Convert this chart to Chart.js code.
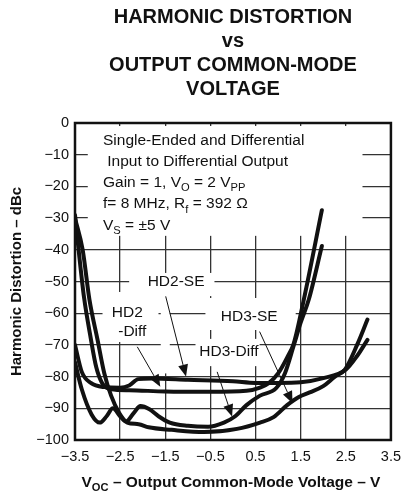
<!DOCTYPE html>
<html>
<head>
<meta charset="utf-8">
<script src="https://cdn.jsdelivr.net/npm/chart.js@4.4.0/dist/chart.umd.min.js"></script>
<style>
  html, body { margin: 0; padding: 0; background: #fff; }
  #chart { display: block; }
</style>
</head>
<body>
<canvas id="chart" width="409" height="495"></canvas>
<script>
// axis ticks
const X_TICKS = [-3.5, -2.5, -1.5, -0.5, 0.5, 1.5, 2.5, 3.5];
const Y_MIN = -100;
const Y_MAX = 0;

// curves (V, dBc)
const hd2SeX = [-3.5, -3.35, -3.15, -2.85, -2.5, -2.3, -2.1, -1.8, -1.0, 0.0, 0.5, 1.0, 1.5, 2.0, 2.5, 2.75, 2.98];
const hd2SeY = [-70, -78.5, -82, -83.3, -83.5, -82.8, -80.8, -80.6, -81, -81.5, -82, -82, -81.8, -80.5, -77.8, -73.5, -68.4];

const hd2DiffX = [-3.5, -3.42, -3.3, -3.15, -3.03, -2.9, -2.7, -2.3, -1.5, -0.5, 0.3, 0.6, 0.8, 1.0, 1.2, 1.35, 1.57, 1.97];
const hd2DiffY = [-29, -40, -55, -68, -77, -82, -84, -84.3, -84.7, -84.8, -84.5, -83.5, -82, -79, -74, -69.4, -55.7, -27.5];

const hd3SeX = [-3.5, -3.33, -3.18, -3.0, -2.85, -2.7, -2.52, -2.34, -2.09, -1.87, -1.36, -0.64, 0.09, 0.6, 0.9, 1.2, 1.45, 1.7, 2.0, 2.26, 2.48, 2.75, 2.98];
const hd3SeY = [-30, -40, -55.7, -68.4, -79, -86, -91.5, -94.5, -95, -96, -96.8, -97.5, -96.5, -94.5, -92.8, -89, -86.5, -85, -83, -80, -77.8, -70, -62];

const hd3DiffX = [-3.5, -3.35, -3.13, -2.95, -2.8, -2.66, -2.5, -2.37, -2.2, -2.05, -1.85, -1.65, -1.4, -1.0, -0.55, -0.2, 0.05, 0.3, 0.6, 0.96, 1.15, 1.35, 1.5, 1.68, 1.97];
const hd3DiffY = [-75.5, -84, -92, -94.5, -92.5, -90, -92.5, -94.2, -91.5, -89.3, -90.3, -92.5, -94.5, -95.5, -95.8, -94.5, -92.5, -89, -86, -83.6, -79, -70, -63, -55.7, -38.8];

const FONT = "'Liberation Sans', Arial, sans-serif";
const INK = "#111";

function toPoints(xs, ys) {
  return xs.map((x, i) => ({ x: x, y: ys[i] }));
}
function minusSign(v) {
  return String(v).replace("-", "\u2212");
}

// condition text, [text, isSubscript]
const NOTE_LINES = [
  [["Single-Ended and Differential"]],
  [[" Input to Differential Output"]],
  [["Gain = 1, V"], ["O", 1], [" = 2 V"], ["PP", 1]],
  [["f= 8 MHz, R"], ["f", 1], [" = 392 \u03A9"]],
  [["V"], ["S", 1], [" = \u00B15 V"]],
];

// white boxes behind texts (data units: x1, x2, y1, y2)
const MASKS = [
  [-3.217, 2.87, -0.95, -35.6],
  [-2.3, -0.41, -47.3, -54.6],
  [-1.6, -1.4, -54.6, -79],
  [-2.89, -1.65, -53.3, -69.1],
  [-0.61, 1.39, -55.2, -65.3],
  [-0.83, 0.59, -68.1, -76.7],
];
const LABELS = [
  ["HD2-SE", -1.26, -50.0],
  ["HD2", -2.34, -60.0],
  ["-Diff", -2.23, -65.8],
  ["HD3-SE", 0.36, -61.1],
  ["HD3-Diff", -0.09, -72.1],
];
// arrows: from (x, y) to tip (x, y)
const ARROWS = [
  [-1.49, -54.7, -1.04, -80],
  [-2.12, -70.6, -1.61, -83.2],
  [-0.35, -78.5, -0.02, -92.6],
  [0.59, -65.8, 1.32, -88.4],
];

function drawRich(ctx, parts, x, y, size, weight, align) {
  const subSize = size * 0.72;
  let total = 0;
  parts.forEach((p) => {
    ctx.font = `${weight} ${p[1] ? subSize : size}px ${FONT}`;
    total += ctx.measureText(p[0]).width;
  });
  let cx = align === "center" ? x - total / 2 : x;
  ctx.textAlign = "left";
  ctx.textBaseline = "alphabetic";
  parts.forEach((p) => {
    ctx.font = `${weight} ${p[1] ? subSize : size}px ${FONT}`;
    ctx.fillText(p[0], cx, p[1] ? y + size * 0.28 : y);
    cx += ctx.measureText(p[0]).width;
  });
}

const overlay = {
  id: "overlay",
  beforeDatasetsDraw(chart) {
    const { ctx } = chart;
    const xs = chart.scales.x;
    const ys = chart.scales.y;
    ctx.save();
    ctx.fillStyle = "#fff";
    MASKS.forEach(([x1, x2, y1, y2]) => {
      const px1 = xs.getPixelForValue(x1);
      const px2 = xs.getPixelForValue(x2);
      const py1 = ys.getPixelForValue(y1);
      const py2 = ys.getPixelForValue(y2);
      ctx.fillRect(px1, py1, px2 - px1, py2 - py1);
    });
    ctx.fillStyle = INK;
    NOTE_LINES.forEach((line, i) => {
      drawRich(ctx, line, 103, 144.5 + i * 21.3, 15.5, "normal", "left");
    });
    ctx.font = `normal 15.5px ${FONT}`;
    ctx.textAlign = "center";
    ctx.textBaseline = "middle";
    LABELS.forEach(([t, lx, ly]) => {
      ctx.fillText(t, xs.getPixelForValue(lx), ys.getPixelForValue(ly));
    });
    ctx.restore();
  },
  afterDatasetsDraw(chart) {
    const { ctx, chartArea } = chart;
    const xs = chart.scales.x;
    const ys = chart.scales.y;
    ctx.save();
    ctx.strokeStyle = INK;
    ctx.fillStyle = INK;
    ARROWS.forEach(([x1, y1, x2, y2]) => {
      const ax = xs.getPixelForValue(x1);
      const ay = ys.getPixelForValue(y1);
      const bx = xs.getPixelForValue(x2);
      const by = ys.getPixelForValue(y2);
      const ang = Math.atan2(by - ay, bx - ax);
      const len = 12;
      const half = 5;
      const baseX = bx - len * Math.cos(ang);
      const baseY = by - len * Math.sin(ang);
      ctx.lineWidth = 1;
      ctx.beginPath();
      ctx.moveTo(ax, ay);
      ctx.lineTo(baseX, baseY);
      ctx.stroke();
      ctx.beginPath();
      ctx.moveTo(bx, by);
      ctx.lineTo(baseX + half * Math.sin(ang), baseY - half * Math.cos(ang));
      ctx.lineTo(baseX - half * Math.sin(ang), baseY + half * Math.cos(ang));
      ctx.closePath();
      ctx.fill();
    });
    // frame
    ctx.lineWidth = 2.5;
    ctx.strokeRect(chartArea.left, chartArea.top, chartArea.right - chartArea.left, chartArea.bottom - chartArea.top);
    ctx.restore();
  },
  afterDraw(chart) {
    const { ctx, chartArea } = chart;
    const cx = (chartArea.left + chartArea.right) / 2;
    ctx.save();
    ctx.fillStyle = INK;
    ctx.textAlign = "center";
    ctx.textBaseline = "alphabetic";
    ctx.font = `bold 20px ${FONT}`;
    ["HARMONIC DISTORTION", "vs", "OUTPUT COMMON-MODE", "VOLTAGE"].forEach((t, i) => {
      ctx.fillText(t, cx, 23 + i * 24);
    });
    drawRich(ctx, [["V"], ["OC", 1], [" \u2013 Output Common-Mode Voltage \u2013 V"]], cx - 2, 487, 15.5, "bold", "center");
    ctx.restore();
  },
};

const lineStyle = {
  borderColor: INK,
  borderWidth: 4,
  pointRadius: 0,
  fill: false,
  cubicInterpolationMode: "monotone",
  borderCapStyle: "round",
  borderJoinStyle: "round",
};

new Chart(document.getElementById("chart"), {
  type: "line",
  data: {
    datasets: [
      { label: "HD2-SE", data: toPoints(hd2SeX, hd2SeY), ...lineStyle },
      { label: "HD2-Diff", data: toPoints(hd2DiffX, hd2DiffY), ...lineStyle },
      { label: "HD3-SE", data: toPoints(hd3SeX, hd3SeY), ...lineStyle },
      { label: "HD3-Diff", data: toPoints(hd3DiffX, hd3DiffY), ...lineStyle },
    ],
  },
  options: {
    responsive: false,
    animation: false,
    devicePixelRatio: 1,
    layout: { padding: { top: 123, right: 12, left: 0, bottom: 0 } },
    plugins: { legend: { display: false }, tooltip: { enabled: false } },
    scales: {
      x: {
        type: "linear",
        min: X_TICKS[0],
        max: X_TICKS[X_TICKS.length - 1],
        afterBuildTicks: (s) => {
          s.ticks = X_TICKS.map((v) => ({ value: v }));
        },
        afterFit: (s) => {
          s.height = 55;
        },
        grid: { color: "#333", lineWidth: 1.3, drawTicks: false },
        border: { display: false },
        ticks: {
          padding: 8,
          color: INK,
          font: { family: FONT, size: 14.5 },
          maxRotation: 0,
          autoSkip: false,
          callback: (v) => minusSign(Number(v).toFixed(1)),
        },
      },
      y: {
        min: Y_MIN,
        max: Y_MAX,
        afterFit: (s) => {
          s.width = 75;
        },
        grid: { color: "#333", lineWidth: 1.3, drawTicks: false },
        border: { display: false },
        ticks: {
          stepSize: 10,
          padding: 6,
          color: INK,
          font: { family: FONT, size: 14.5 },
          callback: (v) => minusSign(v),
        },
        title: {
          display: true,
          text: "Harmonic Distortion \u2013 dBc",
          color: INK,
          font: { family: FONT, size: 15, weight: "bold" },
          padding: { top: 8, bottom: 0 },
        },
      },
    },
  },
  plugins: [overlay],
});
</script>
</body>
</html>
